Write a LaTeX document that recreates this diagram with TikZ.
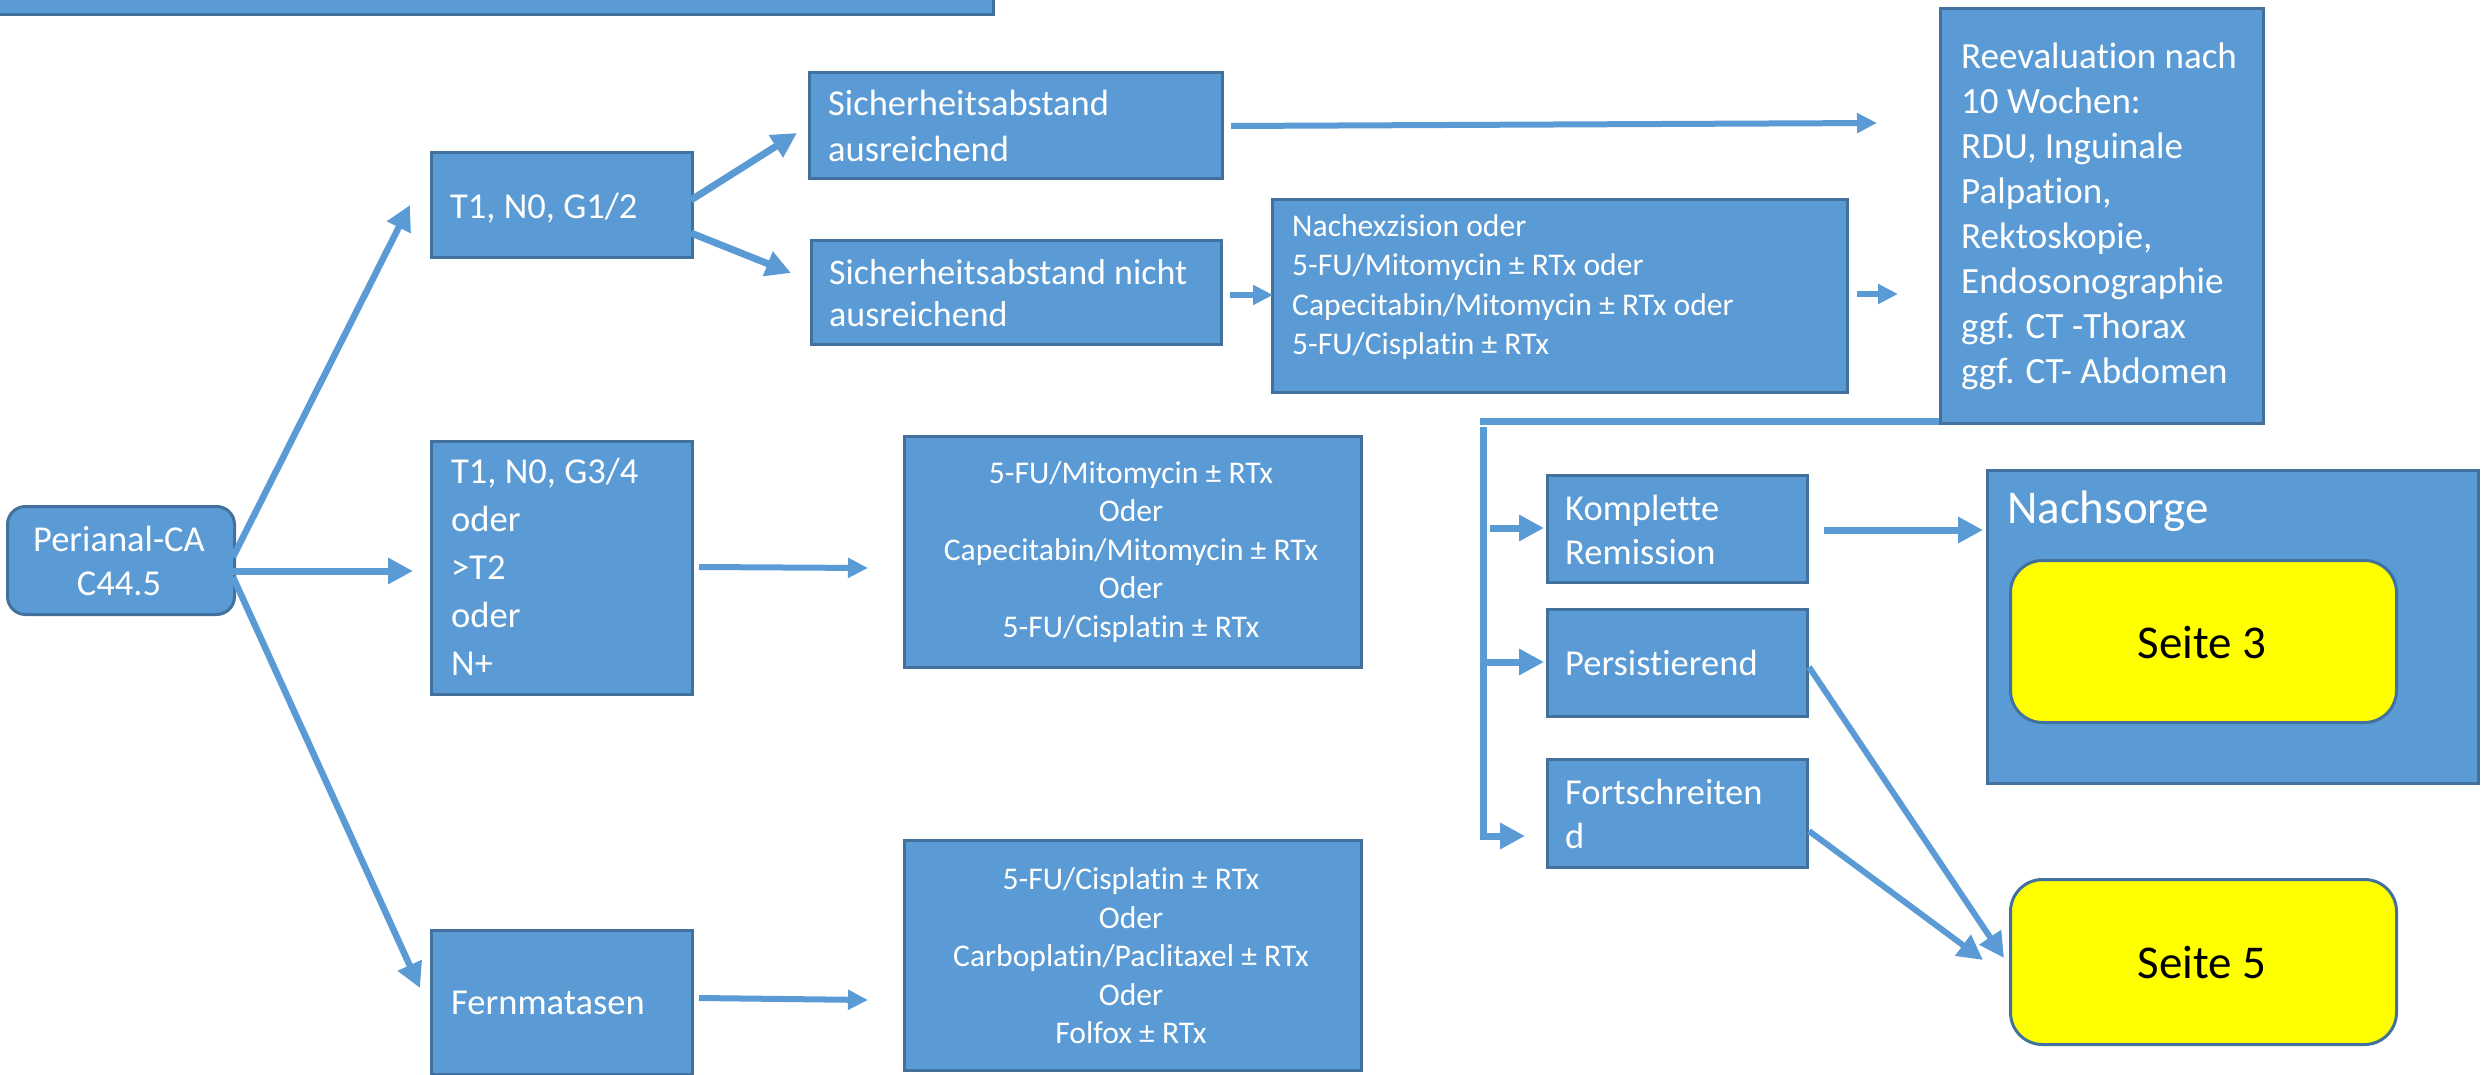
\documentclass[tikz,border=0pt]{standalone}
\usepackage{fontspec}
\setmainfont{Carlito}[Ligatures=NoCommon]
\usetikzlibrary{arrows.meta}
\definecolor{boxc}{HTML}{5B9BD5}
\definecolor{bordc}{HTML}{41719C}
\definecolor{ylw}{HTML}{FFFF00}
\begin{document}
\begin{tikzpicture}[x=1pt,y=-1pt,
  box/.style={draw=bordc, fill=boxc, line width=3pt, anchor=north west, inner sep=0pt},
  ybox/.style={draw=bordc, fill=ylw, line width=3pt, anchor=north west, inner sep=0pt, rounded corners=32pt},
  txt/.style={text=white, inner sep=0pt, align=left, font=\fontsize{36.5}{44}\selectfont},
  stxt/.style={text=white, inner sep=0pt, align=center, font=\fontsize{31.6}{38.5}\selectfont},
  btxt/.style={inner sep=0pt, font=\fontsize{47}{56}\selectfont},
  arr/.style={draw=boxc, line width=7pt, -{Triangle[length=25pt,width=25pt]}},
  sarr/.style={draw=boxc, line width=6pt, -{Triangle[length=20pt,width=19pt]}},
  lin/.style={draw=boxc, line width=7pt}]
\useasboundingbox (0,0) rectangle (2484,1075);
\fill[white] (0,0) rectangle (2484,1075);

% boxes
\node[box, anchor=south east, minimum width=1040pt, minimum height=60pt] (topbar) at (995,16) {};
\node[box, rounded corners=18pt, minimum width=227pt, minimum height=108pt] (peri) at (6,505) {};
\node[box, minimum width=261pt, minimum height=105pt] (t1a) at (430,151) {};
\node[box, minimum width=261pt, minimum height=253pt] (t1b) at (430,440) {};
\node[box, minimum width=261pt, minimum height=144pt] (fern) at (430,929) {};
\node[box, minimum width=413pt, minimum height=106pt] (sa) at (808,71) {};
\node[box, minimum width=410pt, minimum height=104pt] (sn) at (810,239) {};
\node[box, minimum width=575pt, minimum height=193pt] (nach) at (1271,198) {};
\node[box, minimum width=323pt, minimum height=415pt] (reev) at (1939,7) {};
\node[box, minimum width=457pt, minimum height=231pt] (mid) at (903,435) {};
\node[box, minimum width=457pt, minimum height=230pt] (bot) at (903,839) {};
\node[box, minimum width=260pt, minimum height=107pt] (kr) at (1546,474) {};
\node[box, minimum width=260pt, minimum height=107pt] (pe) at (1546,608) {};
\node[box, minimum width=260pt, minimum height=108pt] (fo) at (1546,758) {};
\node[box, minimum width=491pt, minimum height=313pt] (ns) at (1986,469) {};
\node[ybox, minimum width=386pt, minimum height=162pt] (s3) at (2009,559) {};
\node[ybox, minimum width=386pt, minimum height=165pt] (s5) at (2009,878) {};

% texts
\node[txt, align=center] (tperi) at (119,561) {Perianal-CA\\C44.5};
\node[txt, anchor=west] (tt1a) at (450,208) {T1, N0, G1/2};
\node[txt, anchor=west, font=\fontsize{36.5}{48}\selectfont] (tt1b) at (451,567) {T1, N0, G3/4\\oder\\>T2\\oder\\N+};
\node[txt, anchor=west] (tfern) at (451,1003) {Fernmatasen};
\node[txt, anchor=west, font=\fontsize{36.5}{46}\selectfont] (tsa) at (828,126) {Sicherheitsabstand\\ausreichend};
\node[txt, anchor=west, font=\fontsize{36}{42}\selectfont] (tsn) at (829,293) {Sicherheitsabstand nicht\\ausreichend};
\node[stxt, anchor=west, align=left, font=\fontsize{31.6}{39.5}\selectfont] (tnach) at (1292,287) {Nachexzision oder\\5-FU/Mitomycin ± RTx oder\\Capecitabin/Mitomycin ± RTx oder\\5-FU/Cisplatin ± RTx};
\node[txt, anchor=west, font=\fontsize{37}{45}\selectfont] (treev) at (1961,216) {Reevaluation nach\\10 Wochen:\\RDU, Inguinale\\Palpation,\\Rektoskopie,\\Endosonographie\\ggf. CT -Thorax\\ggf. CT- Abdomen};
\node[stxt] (tmid) at (1131,552) {5-FU/Mitomycin ± RTx\\Oder\\Capecitabin/Mitomycin ± RTx\\Oder\\5-FU/Cisplatin ± RTx};
\node[stxt] (tbot) at (1131,956) {5-FU/Cisplatin ± RTx\\Oder\\Carboplatin/Paclitaxel ± RTx\\Oder\\Folfox ± RTx};
\node[txt, anchor=west] (tkr) at (1565,530) {Komplette\\Remission};
\node[txt, anchor=west] (tpe) at (1565,663) {Persistierend};
\node[txt, anchor=west] (tfo) at (1565,814) {Fortschreiten\\d};
\node[btxt, text=white, anchor=west] (tns) at (2007,511) {Nachsorge};
\node[btxt, text=black] (ts3) at (2202,642) {Seite 3};
\node[btxt, text=black] (ts5) at (2202,962) {Seite 5};

% connector end points
\coordinate (p1) at (233,557); \coordinate (q1) at (410,205);
\coordinate (p2) at (233,571); \coordinate (q2) at (413,571);
\coordinate (p3) at (233,577); \coordinate (q3) at (420,988);
\coordinate (p4) at (691,200); \coordinate (q4) at (797,133);
\coordinate (p5) at (691,233); \coordinate (q5) at (791,273);
\coordinate (p6) at (1231,126); \coordinate (q6) at (1877,123);
\coordinate (p7) at (1230,295); \coordinate (q7) at (1273,295);
\coordinate (p8) at (1857,294); \coordinate (q8) at (1898,294);
\coordinate (p9) at (699,567); \coordinate (q9) at (868,568);
\coordinate (p10) at (699,998); \coordinate (q10) at (868,1000);
\coordinate (r1) at (1939,421); \coordinate (r2) at (1480,421);
\coordinate (v1) at (1483,427); \coordinate (v2) at (1483,836); \coordinate (v3) at (1525,836);
\coordinate (p13) at (1490,528); \coordinate (q13) at (1544,528);
\coordinate (p14) at (1487,662); \coordinate (q14) at (1544,662);
\coordinate (p15) at (1824,530); \coordinate (q15) at (1983,530);
\coordinate (p16) at (1809,667); \coordinate (q16) at (2004,958);
\coordinate (p17) at (1809,831); \coordinate (q17) at (1983,960);

% connectors
\draw[arr, line width=6.5pt] (p1) -- (q1);
\draw[arr] (p2) -- (q2);
\draw[arr, line width=6.5pt] (p3) -- (q3);
\draw[arr] (p4) -- (q4);
\draw[arr] (p5) -- (q5);
\draw[sarr] (p6) -- (q6);
\draw[sarr] (p7) -- (q7);
\draw[sarr] (p8) -- (q8);
\draw[sarr] (p9) -- (q9);
\draw[sarr] (p10) -- (q10);
\draw[lin] (r1) -- (r2);
\draw[arr] (v1) -- (v2) -- (v3);
\draw[arr] (p13) -- (q13);
\draw[arr] (p14) -- (q14);
\draw[arr] (p15) -- (q15);
\draw[arr, line width=6pt] (p16) -- (q16);
\draw[arr, line width=6pt] (p17) -- (q17);
\end{tikzpicture}
\end{document}
